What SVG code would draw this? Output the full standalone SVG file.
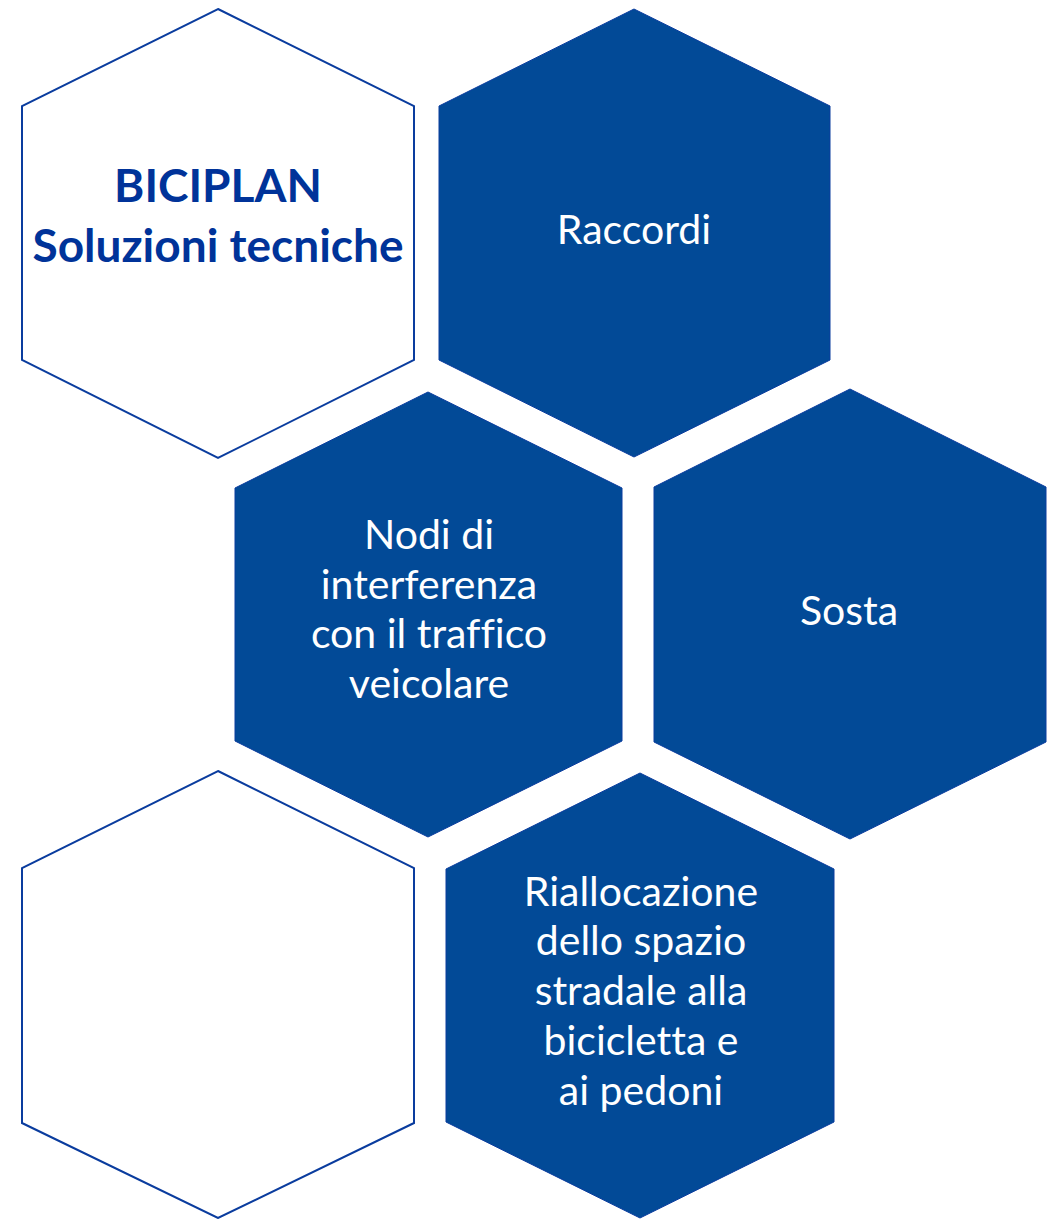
<svg xmlns="http://www.w3.org/2000/svg" width="1059" height="1219" viewBox="0 0 1059 1219">
<style>
.outline{fill:#ffffff;stroke:#0A3C9E;stroke-width:2}
.solid{fill:#024A97;stroke:#0A3C9E;stroke-width:1}
.lbl{font-family:Lato,"Liberation Sans",sans-serif;font-size:41px;fill:#ffffff;text-anchor:middle;font-variant-ligatures:none}
.title{font-family:Lato,"Liberation Sans",sans-serif;font-size:46px;font-weight:bold;fill:#003399;text-anchor:middle}
</style>
<rect width="1059" height="1219" fill="#ffffff"/>
<g id="node-biciplan">
<polygon class="outline" points="218,9 414,106 414,360 218,458 22,360 22,106"/>
<text class="title" x="218" y="202">BICIPLAN</text>
<text class="title" x="218" y="262">Soluzioni tecniche</text>
</g>
<g id="node-raccordi">
<polygon class="solid" points="634,9 830,106 830,360 634,457 439,360 439,106"/>
<text class="lbl" x="634" y="244">Raccordi</text>
</g>
<g id="node-nodi">
<polygon class="solid" points="428,392 622,488 622,741 428,837 235,741 235,488"/>
<text class="lbl" x="429" y="549">Nodi di</text>
<text class="lbl" x="429" y="599">interferenza</text>
<text class="lbl" x="429" y="648">con il traffico</text>
<text class="lbl" x="429" y="698">veicolare</text>
</g>
<g id="node-sosta">
<polygon class="solid" points="850,389 1046,487 1046,742 850,839 654,742 654,487"/>
<text class="lbl" x="849" y="625">Sosta</text>
</g>
<g id="node-empty">
<polygon class="outline" points="218,771 414,868 414,1123 218,1218 22,1123 22,868"/>
</g>
<g id="node-riallocazione">
<polygon class="solid" points="640,773 834,869 834,1122 640,1218 446,1122 446,869"/>
<text class="lbl" x="641" y="906">Riallocazione</text>
<text class="lbl" x="641" y="955">dello spazio</text>
<text class="lbl" x="641" y="1005">stradale alla</text>
<text class="lbl" x="641" y="1055">bicicletta e</text>
<text class="lbl" x="641" y="1105">ai pedoni</text>
</g>
<g id="connectors"></g>
</svg>
